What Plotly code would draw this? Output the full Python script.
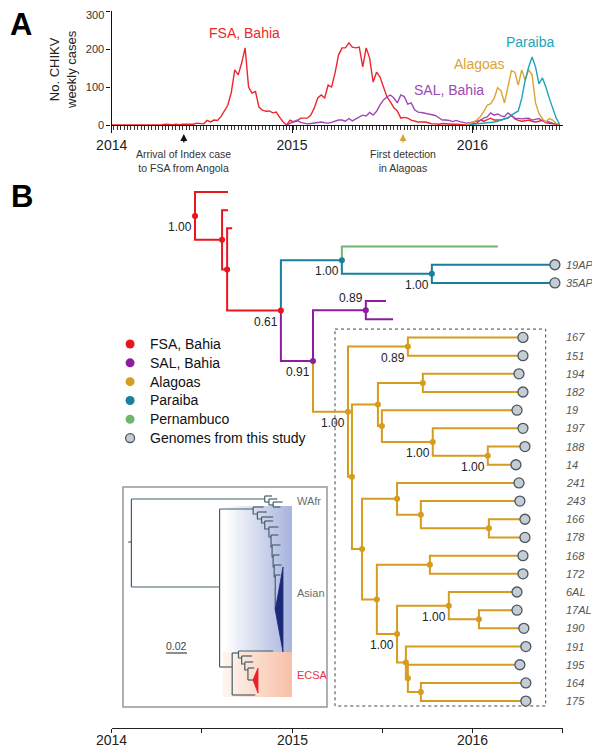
import datetime as dt
import numpy as np
import plotly.graph_objects as go

FONT = "Liberation Sans, Arial, Helvetica, sans-serif"

# ---------------- Panel A: weekly CHIKV cases ----------------
EPI_WEEK_ZERO = dt.date(2013, 12, 29)  # first epidemiological week of 2014

fsa_first_week = 0
fsa_cases = [0, 0, 0, 0, 0, 0, 0, 0, 0, 0, 0, 0, 0, 0,
             1, 1, 2, 1, 1, 2, 1, 2, 2, 3, 2, 5, 4,
             3, 12, 8, 13, 12, 22, 38, 52, 85, 145, 132, 163, 203, 100, 84, 88, 47, 39,
             36, 37, 32, 34, 20, 8, 0, 13, 8, 10, 18, 18, 18, 26, 45, 71, 79, 71, 105,
             100, 137, 184, 203, 203, 216, 205, 203, 205, 153, 203, 176, 113, 139, 126,
             97, 74, 61, 45, 37, 18, 20, 18, 13, 10, 8, 8, 8, 6, 3, 3, 2, 4, 3, 3, 2, 2,
             1, 0, 0, 0, 4, 5, 13, 10, 13, 18, 13, 13, 13, 16, 18, 26, 16, 12, 10, 11,
             13, 10, 8, 10, 13, 6, 5, 4, 2, 1]
sal_first_week = 51
sal_cases = [0, 5, 9, 13, 7, 4, 3, 4, 6, 7, 8, 6, 5, 7, 10, 13, 13, 10, 17, 11, 16, 21,
             26, 24, 33, 26, 36, 53, 66, 74, 79, 71, 58, 79, 75, 55, 58, 40, 34, 33, 31,
             29, 29, 25, 19, 13, 13, 12, 9, 12, 9, 6, 5, 6, 8, 8, 12, 18, 21, 32, 26, 29,
             24, 22, 32, 25, 18, 17, 16, 17, 18, 13, 16, 17, 10, 9, 8, 5, 2, 1]
alagoas_first_week = 103
alagoas_cases = [0, 3, 8, 13, 22, 36, 52, 56, 70, 98, 90, 58, 97, 143, 139, 105, 145,
                 118, 145, 132, 58, 30, 16, 8, 17, 13, 4, 1]
paraiba_first_week = 104
paraiba_cases = [1, 2, 3, 3, 4, 5, 6, 8, 10, 13, 16, 19, 26, 32, 37, 70, 118, 152, 179,
                 153, 108, 124, 100, 70, 42, 18, 2]

series_names = ["FSA, Bahia", "SAL, Bahia", "Alagoas", "Paraiba"]
series_colors = ["#ef262c", "#a048b4", "#d8a532", "#1ca4b9"]
series_label_x = [2014.735, 2015.870, 2016.040, 2016.318]
series_label_y = [242, 92, 160, 218]

year_ticks = [2014, 2015, 2016]
half_year_ticks = [2014, 2014.5, 2015, 2015.5, 2016, 2016.5]
case_ticks = [0, 100, 200, 300]
arrival_index_case = 2014.400
first_detection_alagoas = 2015.615

# ---------------- Panel B: time-scaled phylogeny ----------------
tip_labels = ["", "", "", "", "19AP", "35AP", "", "",
              "167", "151", "194", "182", "19", "197", "188", "14", "241", "243",
              "166", "178", "168", "172", "6AL", "17AL", "190", "191", "195", "164", "175"]
tip_parent = ["R0", "R1", "R2", "P1", "P2", "P2", "S2", "S2",
              "A1", "A1", "A5", "A5", "A6", "A7", "A8", "A8", "A9", "A11",
              "A12", "A12", "A13", "A13", "A15", "A17", "A17", "A16", "B1", "B2", "B2"]
tip_time = [2014.645, 2014.645, 2014.668, 2016.141, 2016.457, 2016.457, 2015.521, 2015.560,
            2016.280, 2016.280, 2016.258, 2016.280, 2016.247, 2016.280, 2016.291, 2016.241,
            2016.258, 2016.263, 2016.291, 2016.291, 2016.280, 2016.280, 2016.247, 2016.247,
            2016.285, 2016.296, 2016.263, 2016.296, 2016.296]
tip_clade = ["FSA", "FSA", "FSA", "PE", "PB", "PB", "SAL", "SAL"] + ["AL"] * 21
tip_genome = [False, False, False, False, True, True, False, False] + [True] * 21

node_ids = ["R0", "R1", "R2", "N0", "P1", "P2", "S1", "S2", "A0", "A1", "A2", "A3", "A4",
            "A5", "A6", "A7", "A8", "A9", "A10", "A11", "A12", "A13", "A14", "A15", "A16",
            "A17", "B1", "B2"]
node_parent = [None, "R0", "R1", "R2", "N0", "P1", "N0", "S1", "S1", "A0", "A0", "A2", "A2",
               "A3", "A3", "A6", "A7", "A4", "A4", "A9", "A11", "A10", "A10", "A14", "A14",
               "A15", "A16", "B1"]
node_time = [2014.462, 2014.612, 2014.640, 2014.938, 2015.276, 2015.775, 2015.116, 2015.409,
             2015.310, 2015.642, 2015.332, 2015.476, 2015.388, 2015.725, 2015.498, 2015.780,
             2016.085, 2015.582, 2015.470, 2015.714, 2016.091, 2015.764, 2015.582, 2015.869,
             2015.631, 2016.036, 2015.642, 2015.714]
node_clade = ["FSA", "FSA", "FSA", "FSA", "PB", "PB", "SAL", "SAL"] + ["AL"] * 20
node_support = ["1.00", "", "", "0.61", "1.00", "1.00", "0.91", "0.89", "1.00", "0.89", "",
                "", "", "", "", "1.00", "1.00", "", "", "", "", "", "1.00", "1.00", "", "",
                "", ""]
node_support_above = ["S2"]

clade_colors = {"FSA": "#e8161e", "SAL": "#8c1d9d", "AL": "#d69c1f",
                "PB": "#17809f", "PE": "#6fb56f"}
genome_fill = "#c4ccd4"
genome_edge = "#4b5660"

legend_labels = ["FSA, Bahia", "SAL, Bahia", "Alagoas", "Paraiba", "Pernambuco",
                 "Genomes from this study"]
legend_clades = ["FSA", "SAL", "AL", "PB", "PE", None]

alagoas_box_x = [2015.238, 2016.406]
alagoas_box_y = [7.54, 28.27]

# ---------------- Inset: CHIKV genotype tree (subs/site) ----------------
inset_backbone_x = [0.005, 0.008, None, 0.008, 0.008, None, 0.008, 0.135, None,
                    0.008, 0.092, None, 0.092, 0.092, None, 0.092, 0.124, None,
                    0.092, 0.104, None, 0.104, 0.104, None, 0.104, 0.110, None,
                    0.104, 0.126]
inset_backbone_y = [55, 55, None, 12, 100, None, 12, 12, None,
                    100, 100, None, 22, 180, None, 22, 22, None,
                    180, 180, None, 166, 208, None, 166, 166, None,
                    208, 208]
wafr_x = [0.135, 0.135, None, 0.135, 0.142, None, 0.135, 0.139, None, 0.139, 0.139, None,
          0.139, 0.147, None, 0.139, 0.143, None, 0.143, 0.143, None, 0.143, 0.152, None,
          0.143, 0.150]
wafr_y = [9, 15, None, 9, 9, None, 15, 15, None, 12, 18, None,
          12, 12, None, 18, 18, None, 15, 20, None, 15, 15, None,
          20, 20]
asian_node_x = [0.124, 0.128, 0.132, 0.135, 0.139, 0.141, 0.142, 0.143, 0.144, 0.145]
asian_node_y = [22, 27, 32, 36, 42, 50, 60, 70, 80, 90]
asian_tip_len = [0.010, 0.009, 0.011, 0.008, 0.009, 0.007, 0.008, 0.006, 0.007, 0.005]
asian_clade_x = [0.145, 0.1524, 0.1524, 0.145]
asian_clade_y = [123, 80, 165, 123]
ecsa_node_x = [0.110, 0.113, 0.116, 0.119]
ecsa_node_y = [166, 171, 177, 183]
ecsa_tip_len = [0.033, 0.010, 0.008, 0.006]
ecsa_clade_x = [0.1238, 0.1286, 0.1286, 0.1238]
ecsa_clade_y = [193, 181, 206, 193]
asian_band_x = [0.0952, 0.161]
asian_band_y = [19, 165]
ecsa_band_y = [165, 210]
scale_bar_x = [0.041, 0.061]
scale_bar_y = 166
genotype_labels = ["WAfr", "Asian", "ECSA"]
genotype_label_y = [14, 106, 188]
genotype_label_colors = ["#6d6d6d", "#6d6d6d", "#e8343a"]

# ---------------- Geometry of the figure ----------------
OFF = 8  # the page places the figure 8 px in from the window's top-left corner
W, H = 600 - OFF, 748 - OFF


def px_x(p):
    return (p - OFF) / W


def px_y(p):
    return 1 - (p - OFF) / H


X_DOM = [px_x(111.5), px_x(563)]
A_Y_DOM = [px_y(125), px_y(11)]
B_Y_DOM = [px_y(728), px_y(180)]
B_Y_RANGE = [29.48, -0.66]
INSET_X_DOM = [px_x(123), px_x(327)]
INSET_Y_DOM = [px_y(707), px_y(487)]
X_RANGE = [2013.999, 2016.502]


def week_to_year(w):
    d = EPI_WEEK_ZERO + dt.timedelta(days=7 * w)
    y0 = dt.date(d.year, 1, 1)
    y1 = dt.date(d.year + 1, 1, 1)
    return d.year + (d - y0).days / (y1 - y0).days


fig = go.Figure()

# ---- Panel A traces ----
for name, start, cases, color in zip(series_names,
                                     [fsa_first_week, sal_first_week, alagoas_first_week, paraiba_first_week],
                                     [fsa_cases, sal_cases, alagoas_cases, paraiba_cases],
                                     series_colors):
    xs = [week_to_year(start + k) for k in range(len(cases))]
    fig.add_trace(go.Scatter(x=xs, y=cases, mode="lines", name=name,
                             line=dict(color=color, width=1.4),
                             xaxis="x", yaxis="y", hoverinfo="skip", showlegend=False))

# ---- Panel B tree layout ----
children = {nid: [] for nid in node_ids}
for i, p in enumerate(tip_parent):
    children[p].append(("t", i))
for nid, p in zip(node_ids, node_parent):
    if p is not None:
        children[p].append(("n", nid))
ntime = dict(zip(node_ids, node_time))
nclade = dict(zip(node_ids, node_clade))
ycache = {}


def y_of(key):
    if key[0] == "t":
        return float(key[1])
    if key[1] not in ycache:
        ycache[key[1]] = float(np.mean([y_of(c) for c in children[key[1]]]))
    return ycache[key[1]]


seg = {c: ([], []) for c in clade_colors}
for i, p in enumerate(tip_parent):
    sx, sy = seg[tip_clade[i]]
    sx += [ntime[p], ntime[p], tip_time[i], None]
    sy += [y_of(("n", p)), i, i, None]
for nid, p in zip(node_ids, node_parent):
    if p is None:
        continue
    sx, sy = seg[nclade[nid]]
    sx += [ntime[p], ntime[p], ntime[nid], None]
    sy += [y_of(("n", p)), y_of(("n", nid)), y_of(("n", nid)), None]

for clade in ["FSA", "PE", "PB", "SAL", "AL"]:
    sx, sy = seg[clade]
    fig.add_trace(go.Scatter(x=sx, y=sy, mode="lines",
                             line=dict(color=clade_colors[clade], width=2),
                             xaxis="x2", yaxis="y2", hoverinfo="skip", showlegend=False))

fig.add_trace(go.Scatter(x=node_time, y=[y_of(("n", n)) for n in node_ids], mode="markers",
                         marker=dict(size=6, color=[clade_colors[c] for c in node_clade]),
                         xaxis="x2", yaxis="y2", hoverinfo="skip", showlegend=False))

g_idx = [i for i in range(len(tip_labels)) if tip_genome[i]]
fig.add_trace(go.Scatter(x=[tip_time[i] for i in g_idx], y=g_idx, mode="markers",
                         marker=dict(size=10, color=genome_fill,
                                     line=dict(color=genome_edge, width=1.3)),
                         xaxis="x2", yaxis="y2", hoverinfo="skip", showlegend=False))

# custom legend
leg_x = 2014.102
leg_text_x = 2014.202
leg_y0, leg_dy = 8.36, 1.035
leg_y = [leg_y0 + k * leg_dy for k in range(len(legend_labels))]
fig.add_trace(go.Scatter(
    x=[leg_x] * len(legend_labels), y=leg_y, mode="markers",
    marker=dict(size=9,
                color=[clade_colors[c] if c else genome_fill for c in legend_clades],
                line=dict(color=[clade_colors[c] if c else genome_edge for c in legend_clades],
                          width=[0 if c else 1.3 for c in legend_clades])),
    xaxis="x2", yaxis="y2", hoverinfo="skip", showlegend=False))

# ---- Inset traces ----
ex = np.linspace(asian_band_x[0], asian_band_x[1], 25)
zrow = list(range(24))
fig.add_trace(go.Heatmap(x=ex, y=[asian_band_y[0], np.mean(asian_band_y), asian_band_y[1]],
                         z=[zrow, zrow], colorscale=[[0, "#ffffff"], [1, "#a8b4dd"]],
                         showscale=False, zsmooth="best", hoverinfo="skip",
                         xaxis="x3", yaxis="y3"))
fig.add_trace(go.Heatmap(x=ex, y=[ecsa_band_y[0], np.mean(ecsa_band_y), ecsa_band_y[1]],
                         z=[zrow, zrow], colorscale=[[0, "#fff4ee"], [1, "#f7c0a7"]],
                         showscale=False, zsmooth="best", hoverinfo="skip",
                         xaxis="x3", yaxis="y3"))


def ladder(xs, ys, tips, end_y):
    lx, ly = [], []
    for k in range(len(xs)):
        x, y = xs[k], ys[k]
        lx += [x, x + tips[k], None]
        ly += [y - 2, y - 2, None]
        ny = ys[k + 1] if k + 1 < len(xs) else end_y
        nx = xs[k + 1] if k + 1 < len(xs) else x
        lx += [x, x, nx, None]
        ly += [y - 2, ny, ny, None]
    return lx, ly


ax_, ay_ = ladder(asian_node_x, asian_node_y, asian_tip_len, asian_clade_y[0])
ex_, ey_ = ladder(ecsa_node_x, ecsa_node_y, ecsa_tip_len, ecsa_clade_y[0])
ex_ += [ecsa_node_x[-1], ecsa_clade_x[0], None]
ey_ += [ecsa_clade_y[0], ecsa_clade_y[0], None]
ins_x = inset_backbone_x + [None] + wafr_x + [None] + ax_ + ex_
ins_y = inset_backbone_y + [None] + wafr_y + [None] + ay_ + ey_
fig.add_trace(go.Scatter(x=ins_x, y=ins_y, mode="lines",
                         line=dict(color="#43606b", width=1.2),
                         xaxis="x3", yaxis="y3", hoverinfo="skip", showlegend=False))
fig.add_trace(go.Scatter(x=asian_clade_x, y=asian_clade_y, mode="lines", fill="toself",
                         fillcolor="#1d2878", line=dict(color="#1d2878", width=0.8),
                         xaxis="x3", yaxis="y3", hoverinfo="skip", showlegend=False))
fig.add_trace(go.Scatter(x=ecsa_clade_x, y=ecsa_clade_y, mode="lines", fill="toself",
                         fillcolor="#e8202a", line=dict(color="#e8202a", width=0.8),
                         xaxis="x3", yaxis="y3", hoverinfo="skip", showlegend=False))
fig.add_trace(go.Scatter(x=scale_bar_x, y=[scale_bar_y] * 2, mode="lines",
                         line=dict(color="#444", width=1.2),
                         xaxis="x3", yaxis="y3", hoverinfo="skip", showlegend=False))

# ---------------- Annotations ----------------
ann = []


def note(**kw):
    kw.setdefault("showarrow", False)
    kw.setdefault("xanchor", "center")
    kw.setdefault("yanchor", "middle")
    ann.append(kw)


note(text="<b>A</b>", x=px_x(21), y=px_y(25), xref="paper", yref="paper",
     font=dict(size=31, color="#000", family=FONT))
note(text="<b>B</b>", x=px_x(22), y=px_y(196), xref="paper", yref="paper",
     font=dict(size=31, color="#000", family=FONT))
note(text="No. CHIKV<br>weekly cases", x=px_x(63), y=px_y(70), xref="paper",
     yref="paper", textangle=-90, font=dict(size=13, color="#222", family=FONT))
# top case tick label, nudged down so that it stays inside the page
note(text=str(case_ticks[-1]), x=px_x(106), y=px_y(15), xref="paper", yref="paper",
     xanchor="right", font=dict(size=11, color="#333", family=FONT))
for name, color, lx, ly in zip(series_names, series_colors, series_label_x, series_label_y):
    note(text=name, x=lx, y=ly, xref="x", yref="y",
         font=dict(size=14, color=color, family=FONT))

for xv, col, text in [(arrival_index_case, "#111", "Arrival of Index case<br>to FSA from Angola"),
                      (first_detection_alagoas, "#d8a532", "First detection<br>in Alagoas")]:
    note(text="", x=xv, y=px_y(134), xref="x", yref="paper", showarrow=True,
         ax=0, ay=10, arrowhead=2, arrowsize=1, arrowwidth=1.4, arrowcolor=col)
    note(text=text, x=xv, y=px_y(161), xref="x", yref="paper",
         font=dict(size=10.5, color="#333", family=FONT))

# year labels under the tree's time axis
for yr in year_ticks:
    note(text=str(yr), x=yr, y=px_y(740), xref="x2", yref="paper",
         font=dict(size=14, color="#222", family=FONT))

for nid, sup in zip(node_ids, node_support):
    if not sup:
        continue
    above = nid in node_support_above
    note(text=sup, x=ntime[nid], y=y_of(("n", nid)), xref="x2", yref="y2",
         xanchor="right", yanchor="bottom" if above else "top",
         xshift=-1, yshift=3 if above else -2,
         font=dict(size=12, color="#222", family=FONT))

for i, lab in enumerate(tip_labels):
    if lab:
        note(text="<i>" + lab + "</i>", x=px_x(564), y=i,
             xref="paper", yref="y2", xanchor="left",
             font=dict(size=11, color="#555", family=FONT))

for lab, yv in zip(legend_labels, leg_y):
    note(text=lab, x=leg_text_x, y=yv, xref="x2", yref="y2", xanchor="left",
         font=dict(size=14, color="#111", family=FONT))

for lab, yv, col in zip(genotype_labels, genotype_label_y, genotype_label_colors):
    note(text=lab, x=0.1638, y=yv, xref="x3", yref="y3", xanchor="left",
         font=dict(size=11, color=col, family=FONT))
note(text="0.02", x=float(np.mean(scale_bar_x)), y=scale_bar_y - 7, xref="x3",
     yref="y3", font=dict(size=10.5, color="#444", family=FONT))

shapes = [
    dict(type="rect", xref="x2", yref="y2", x0=alagoas_box_x[0], x1=alagoas_box_x[1],
         y0=alagoas_box_y[0], y1=alagoas_box_y[1],
         line=dict(color="#444", width=1, dash="dot"), layer="below"),
    dict(type="rect", xref="x3 domain", yref="y3 domain", x0=0, x1=1, y0=0, y1=1,
         line=dict(color="#8d9b9b", width=1.5)),
]

fig.update_layout(
    width=W, height=H, margin=dict(l=0, r=0, t=0, b=0, pad=0, autoexpand=False),
    paper_bgcolor="white", plot_bgcolor="rgba(0,0,0,0)", showlegend=False,
    font=dict(family=FONT, color="#222"),
    annotations=ann, shapes=shapes,
    xaxis=dict(domain=X_DOM, range=X_RANGE, anchor="y", showgrid=False, zeroline=False,
               showline=True, linecolor="#111", linewidth=1.3,
               tickmode="array", tickvals=year_ticks, ticktext=[str(v) for v in year_ticks],
               ticks="outside", ticklen=7, tickwidth=1.3, tickcolor="#111",
               tickfont=dict(size=14, color="#222", family=FONT),
               minor=dict(ticks="outside", tickmode="linear", tick0=week_to_year(0),
                          dtick=7 / 365.25, ticklen=4, tickwidth=0.8, tickcolor="#333",
                          showgrid=False)),
    yaxis=dict(domain=A_Y_DOM, range=[0, 300], anchor="x", showgrid=False, zeroline=False,
               showline=True, linecolor="#111", linewidth=1.2,
               tickmode="array", tickvals=case_ticks,
               ticktext=[str(v) for v in case_ticks[:-1]] + [""],
               ticks="outside", ticklen=4,
               tickwidth=1.1, tickcolor="#111",
               tickfont=dict(size=11, color="#333", family=FONT)),
    xaxis2=dict(domain=X_DOM, range=X_RANGE, anchor="y2", showgrid=False, zeroline=False,
                showline=True, linecolor="#222", linewidth=1.3,
                tickmode="array", tickvals=half_year_ticks, showticklabels=False,
                ticks="outside", ticklen=4, tickwidth=1.3, tickcolor="#222"),
    yaxis2=dict(domain=B_Y_DOM, range=B_Y_RANGE, anchor="x2", visible=False),
    xaxis3=dict(domain=INSET_X_DOM, range=[0, 0.1943], anchor="y3", visible=False),
    yaxis3=dict(domain=INSET_Y_DOM, range=[220, 0], anchor="x3", visible=False),
)

fig.write_html("out.html")
